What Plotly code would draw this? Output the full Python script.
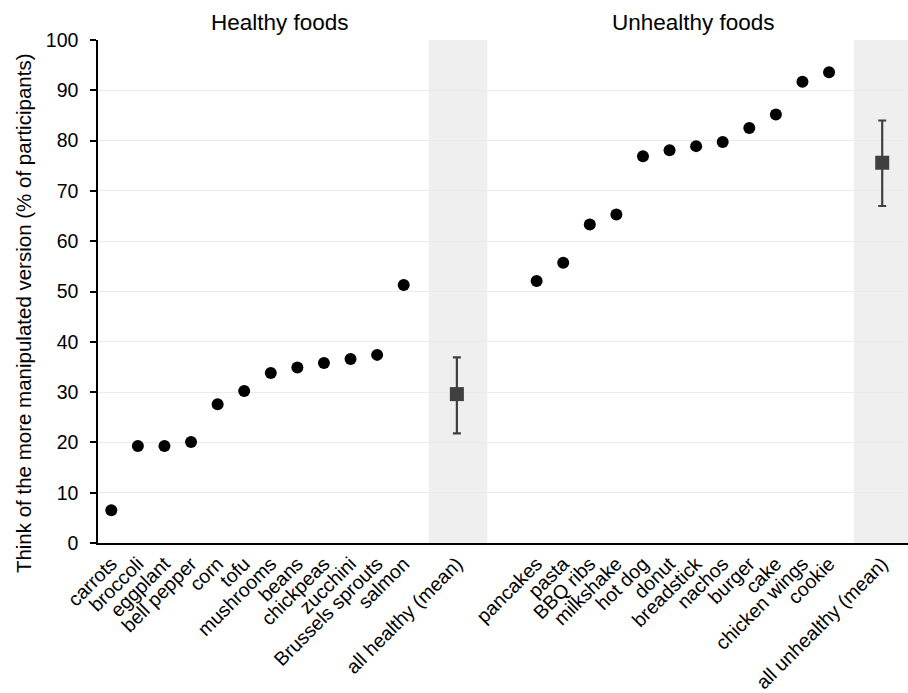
import plotly.graph_objects as go

# Share of participants who think of the more manipulated version of each food
healthy_foods = ["carrots", "broccoli", "eggplant", "bell pepper", "corn", "tofu",
                 "mushrooms", "beans", "chickpeas", "zucchini", "Brussels sprouts", "salmon"]
healthy_values = [6.5, 19.3, 19.3, 20.1, 27.6, 30.2, 33.8, 34.9, 35.8, 36.6, 37.4, 51.3]

unhealthy_foods = ["pancakes", "pasta", "BBQ ribs", "milkshake", "hot dog", "donut",
                   "breadstick", "nachos", "burger", "cake", "chicken wings", "cookie"]
unhealthy_values = [52.1, 55.7, 63.3, 65.3, 76.9, 78.1, 78.9, 79.7, 82.5, 85.2, 91.7, 93.6]

mean_labels = ["all healthy (mean)", "all unhealthy (mean)"]
mean_values = [29.6, 75.6]
mean_err_plus = [7.3, 8.4]
mean_err_minus = [7.8, 8.6]

group_titles = ["Healthy foods", "Unhealthy foods"]
y_title = "Think of the more manipulated version (% of participants)"
y_ticks = list(range(0, 101, 10))

# slot positions along the x axis: foods, one gap, mean, two gaps, next group
healthy_x = list(range(len(healthy_foods)))
mean_x = [len(healthy_foods) + 1]
unhealthy_start = mean_x[0] + 3
unhealthy_x = [unhealthy_start + i for i in range(len(unhealthy_foods))]
mean_x.append(unhealthy_x[-1] + 2)

fig = go.Figure()

fig.add_trace(go.Scatter(
    x=healthy_x + unhealthy_x,
    y=healthy_values + unhealthy_values,
    mode="markers",
    marker=dict(color="black", size=12),
    showlegend=False,
    hoverinfo="skip",
))

fig.add_trace(go.Scatter(
    x=mean_x,
    y=mean_values,
    mode="markers",
    marker=dict(color="#404040", size=14, symbol="square"),
    error_y=dict(type="data", symmetric=False, array=mean_err_plus,
                 arrayminus=mean_err_minus, color="#404040", thickness=2.2, width=4),
    showlegend=False,
    hoverinfo="skip",
))

# grey bands behind the mean columns
for i, mx in enumerate(mean_x):
    fig.add_shape(type="rect", xref="x", yref="y",
                  x0=mx - 1.07, x1=mx + 1.15 if i == 0 else mx + 3,
                  y0=0, y1=100, fillcolor="#efefef", line_width=0, layer="below")

tick_vals = healthy_x + [mean_x[0]] + unhealthy_x + [mean_x[1]]
tick_text = healthy_foods + [mean_labels[0]] + unhealthy_foods + [mean_labels[1]]

title_x = [6.35, 21.9]
for tx, t in zip(title_x, group_titles):
    fig.add_annotation(x=tx, xref="x", y=1.0, yref="paper", yshift=3,
                       text=t, showarrow=False, yanchor="bottom",
                       font=dict(size=22.5, color="black"))

# vertical axis title
fig.add_annotation(x=-0.0926, xref="paper", y=0.457, yref="paper",
                   text=y_title, textangle=-90, showarrow=False,
                   xanchor="center", yanchor="middle",
                   font=dict(size=20.5, color="black"))

fig.update_layout(
    width=908, height=693,
    margin=dict(l=98, r=0, t=40, b=150),
    paper_bgcolor="white",
    plot_bgcolor="white",
    font=dict(family="Liberation Sans, Arial, sans-serif", color="black"),
    xaxis=dict(
        range=[-0.5, 29.97],
        tickmode="array", tickvals=tick_vals, ticktext=tick_text,
        tickangle=-45, tickfont=dict(size=19.5),
        showgrid=False, zeroline=False,
        showline=True, linecolor="black", linewidth=1.5,
        ticks="",
    ),
    yaxis=dict(
        range=[0, 100],
        tickmode="array", tickvals=y_ticks,
        tickfont=dict(size=19.5),
        showgrid=True, gridcolor="#ebebeb", gridwidth=1,
        zeroline=False,
        showline=True, linecolor="black", linewidth=1.5,
        ticks="outside", ticklen=6, tickcolor="black", tickwidth=1.5,
        ticklabelstandoff=8,
    ),
)

fig.write_html("out.html")
